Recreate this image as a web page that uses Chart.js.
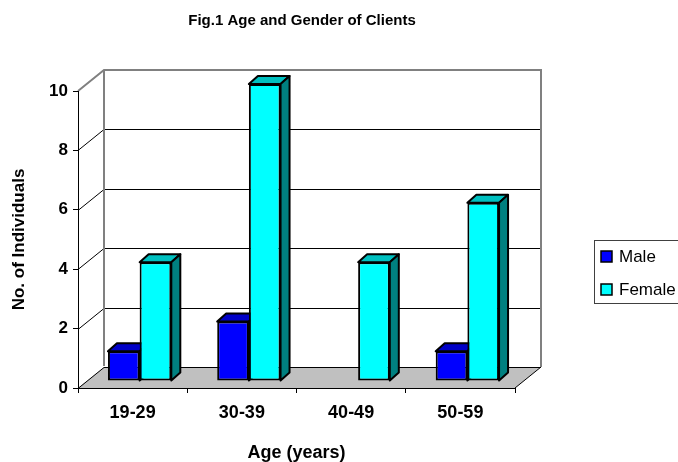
<!DOCTYPE html>
<html>
<head>
<meta charset="utf-8">
<script src="https://cdn.jsdelivr.net/npm/chart.js@4.4.1/dist/chart.umd.min.js"></script>
<style>
  body { margin: 0; background: #fff; }
  canvas { display: block; }
</style>
</head>
<body>
<canvas id="grafico" width="678" height="462"></canvas>
<script>
// dados
const categories = ["19-29", "30-39", "40-49", "50-59"];
const maleCounts = [1, 2, 0, 1];
const femaleCounts = [4, 10, 4, 6];
const seriesNames = ["Male", "Female"];
const yMax = 10;
const yStep = 2;
const chartTitle = "Fig.1 Age and Gender of Clients";

const FONT = "'Liberation Sans Narrow', 'Arial Narrow', 'Liberation Sans', Arial, sans-serif";
Chart.defaults.font.family = FONT;
Chart.defaults.color = "#000";

// efeito 3D (estilo Excel)
const WALL_DX = 26, WALL_DY = 21;   // profundidade das paredes
const SHIFT = 7;                    // barras ficam no meio do piso
const BAR_DX = 9, BAR_DY = 8;       // profundidade das barras
const shades = [
  { front: "#0000ff", top: "#0000c8", side: "#000080" },
  { front: "#00ffff", top: "#00c0c0", side: "#008080" }
];

function poly(ctx, pts, fill, stroke, lw) {
  ctx.beginPath();
  ctx.moveTo(pts[0][0], pts[0][1]);
  for (let i = 1; i < pts.length; i++) ctx.lineTo(pts[i][0], pts[i][1]);
  ctx.closePath();
  if (fill) { ctx.fillStyle = fill; ctx.fill(); }
  if (stroke) { ctx.strokeStyle = stroke; ctx.lineWidth = lw; ctx.stroke(); }
}

const walls = {
  id: "walls",
  beforeDraw(chart) {
    const { ctx, chartArea: a, scales: { y } } = chart;
    ctx.save();
    // piso
    poly(ctx, [[a.left, a.bottom], [a.right, a.bottom], [a.right + WALL_DX, a.bottom - WALL_DY], [a.left + WALL_DX, a.bottom - WALL_DY]], "#c0c0c0");
    // linhas de grade (parede lateral + fundo)
    ctx.strokeStyle = "#000";
    ctx.lineWidth = 1;
    for (let v = 0; v < yMax; v += yStep) {
      const py = Math.round(y.getPixelForValue(v)) + 0.5;
      ctx.beginPath();
      ctx.moveTo(a.left, py);
      ctx.lineTo(a.left + WALL_DX, py - WALL_DY);
      ctx.lineTo(a.right + WALL_DX, py - WALL_DY);
      ctx.stroke();
    }
    ctx.beginPath();
    ctx.moveTo(a.right, a.bottom);
    ctx.lineTo(a.right + WALL_DX, a.bottom - WALL_DY);
    ctx.stroke();
    // contorno cinza das paredes
    ctx.strokeStyle = "#808080";
    ctx.lineWidth = 2;
    ctx.beginPath();
    ctx.moveTo(a.left, a.top);
    ctx.lineTo(a.left + WALL_DX, a.top - WALL_DY);
    ctx.lineTo(a.right + WALL_DX, a.top - WALL_DY);
    ctx.lineTo(a.right + WALL_DX, a.bottom - WALL_DY);
    ctx.moveTo(a.left + WALL_DX, a.top - WALL_DY);
    ctx.lineTo(a.left + WALL_DX, a.bottom - WALL_DY - 1);
    ctx.stroke();
    ctx.restore();
  },
  beforeDatasetsDraw(chart) {
    const ctx = chart.ctx;
    ctx.save();
    ctx.translate(SHIFT, -SHIFT);
    ctx.lineJoin = "round";
    for (let i = 0; i < categories.length; i++) {
      chart.data.datasets.forEach((ds, d) => {
        if (!ds.data[i]) return;
        const el = chart.getDatasetMeta(d).data[i];
        const { x, y, base, width } = el.getProps(["x", "y", "base", "width"], true);
        const l = x - width / 2, r = x + width / 2;
        poly(ctx, [[l, y], [r, y], [r + BAR_DX, y - BAR_DY], [l + BAR_DX, y - BAR_DY]], shades[d].top, "#000", 2);
        poly(ctx, [[r, y], [r + BAR_DX, y - BAR_DY], [r + BAR_DX, base - BAR_DY], [r, base]], shades[d].side, "#000", 2);
      });
    }
  },
  afterDatasetsDraw(chart) {
    chart.ctx.restore();
  },
  afterDraw(chart) {
    const ctx = chart.ctx;
    ctx.save();
    // título
    ctx.font = "bold 15px " + FONT;
    ctx.textAlign = "center";
    ctx.textBaseline = "middle";
    ctx.fillStyle = "#000";
    ctx.fillText(chartTitle, 302, 21);
    // legenda
    ctx.textAlign = "left";
    ctx.strokeStyle = "#404040";
    ctx.lineWidth = 1;
    ctx.strokeRect(594.5, 240.5, 100, 63);
    ctx.font = "17px " + FONT;
    seriesNames.forEach((name, d) => {
      const cy = 257 + d * 33;
      ctx.fillStyle = shades[d].front;
      ctx.fillRect(601, cy - 6, 11, 11);
      ctx.strokeStyle = "#000";
      ctx.lineWidth = 1.5;
      ctx.strokeRect(601, cy - 6, 11, 11);
      ctx.fillStyle = "#000";
      ctx.fillText(name, 619, cy);
    });
    ctx.restore();
  }
};

new Chart(document.getElementById("grafico"), {
  type: "bar",
  data: {
    labels: categories,
    datasets: [
      { label: seriesNames[0], data: maleCounts, backgroundColor: shades[0].front },
      { label: seriesNames[1], data: femaleCounts, backgroundColor: shades[1].front }
    ]
  },
  options: {
    responsive: false,
    animation: false,
    clip: false,
    borderColor: "#000",
    borderWidth: 2,
    borderSkipped: false,
    categoryPercentage: 0.58,
    barPercentage: 1,
    layout: { padding: { top: 91, right: 163, bottom: 0, left: 0 } },
    plugins: {
      legend: { display: false },
      tooltip: { enabled: false },
      title: { display: false }
    },
    scales: {
      x: {
        grid: { display: true, drawOnChartArea: false, color: "#000", tickLength: 5 },
        border: { display: true, color: "#000", width: 1 },
        ticks: { font: { size: 18, weight: "bold" }, padding: 9, maxRotation: 0 },
        title: { display: true, text: "Age (years)", font: { size: 18, weight: "bold", lineHeight: 1 }, padding: 0 },
        afterFit(s) { s.height = 74; }
      },
      y: {
        min: 0,
        max: yMax,
        grid: { display: true, drawOnChartArea: false, color: "#000", tickLength: 5 },
        border: { display: true, color: "#000", width: 1 },
        ticks: { stepSize: yStep, font: { size: 17, weight: "bold" }, padding: 5 },
        title: { display: true, text: "No. of Individuals", font: { size: 17, weight: "bold" }, padding: { top: 9 } },
        afterFit(s) { s.width = 78; }
      }
    }
  },
  plugins: [walls]
});
</script>
</body>
</html>
